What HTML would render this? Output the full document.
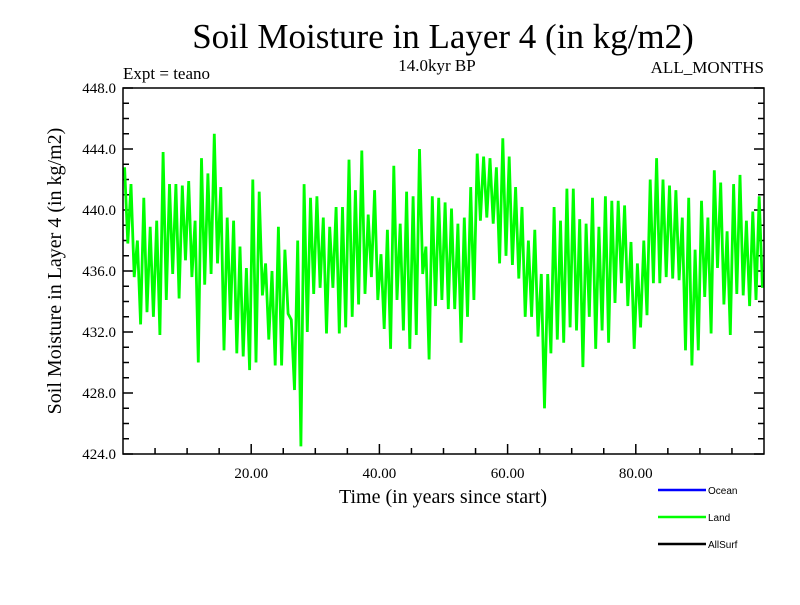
<!DOCTYPE html>
<html><head><meta charset="utf-8"><style>
body{margin:0;background:#fff}
svg text{font-family:"Liberation Serif",serif}
</style></head><body>
<svg id="c" width="800" height="600" xmlns="http://www.w3.org/2000/svg">
<text x="443" y="48" font-size="35" text-anchor="middle">Soil Moisture in Layer 4 (in kg/m2)</text>
<text x="437" y="71" font-size="17" text-anchor="middle">14.0kyr BP</text>
<text x="123" y="79" font-size="17">Expt = teano</text>
<text x="764" y="73" font-size="17" text-anchor="end">ALL_MONTHS</text>
<text x="443" y="503" font-size="20" text-anchor="middle">Time (in years since start)</text>
<text transform="translate(61,271) rotate(-90)" font-size="20" text-anchor="middle">Soil Moisture in Layer 4 (in kg/m2)</text>
<g id="ticks"></g>
<g id="series"></g>
<rect x="123" y="88" width="641" height="366" fill="none" stroke="#000" stroke-width="1.5"/>
<g>
<line x1="658" y1="490" x2="706" y2="490" stroke="#0000ff" stroke-width="2.5"/>
<text x="708" y="494" font-size="10" style="font-family:'Liberation Sans',sans-serif">Ocean</text>
<line x1="658" y1="517" x2="706" y2="517" stroke="#00ff00" stroke-width="2.5"/>
<text x="708" y="521" font-size="10" style="font-family:'Liberation Sans',sans-serif">Land</text>
<line x1="658" y1="544" x2="706" y2="544" stroke="#000" stroke-width="2.5"/>
<text x="708" y="548" font-size="10" style="font-family:'Liberation Sans',sans-serif">AllSurf</text>
</g>
</svg>
<script>
const yearHigh=[442.8,441.7,438.0,440.8,438.9,439.3,443.8,441.7,441.7,441.6,441.9,439.3,443.4,442.4,445.0,441.5,439.5,439.3,437.6,436.2,442.0,441.2,436.5,436.0,438.9,437.4,432.8,438.0,441.7,440.8,440.9,439.5,438.9,440.2,440.2,443.3,441.3,443.9,439.7,441.3,437.1,438.7,442.9,439.1,441.2,440.9,444.0,437.6,440.9,440.8,440.5,440.1,439.1,439.5,441.5,443.7,443.5,443.4,442.8,444.7,443.5,441.5,440.2,438.0,438.7,435.8,435.8,440.2,439.3,441.4,441.4,439.4,439.1,440.8,438.9,440.9,440.6,440.6,440.3,437.9,436.5,438.0,442.0,443.4,442.0,441.6,441.3,439.5,440.8,437.4,440.6,439.5,442.6,441.8,438.6,441.7,442.3,439.3,439.9,440.9];
const yearLow=[437.8,435.6,432.5,433.3,433.0,431.8,434.1,435.8,434.2,436.7,435.6,430.0,435.1,435.8,436.5,430.8,432.8,430.6,430.4,429.5,430.0,434.4,431.5,429.8,429.8,433.2,428.2,424.5,432.0,434.5,434.9,431.9,434.9,431.9,432.3,433.0,433.8,434.5,435.6,434.1,432.2,430.9,434.1,432.1,430.9,431.8,435.8,430.2,433.7,434.1,433.5,433.5,431.3,433.0,434.1,439.3,439.5,439.1,436.5,437.0,436.4,435.5,433.0,433.0,431.7,427.0,430.6,431.5,431.3,432.3,432.1,429.7,433.0,430.9,432.1,431.3,433.9,435.2,433.7,430.9,432.3,433.1,435.2,435.2,435.6,435.5,435.4,430.8,429.8,430.8,434.3,431.9,436.2,433.8,431.8,434.5,434.4,433.7,434.1,434.9];
const yTickLabels=["424.0","428.0","432.0","436.0","440.0","444.0","448.0"];
const xTickLabels=["20.00","40.00","60.00","80.00"];
const X0=123,X1=764,Y0=454,Y1=88,XMIN=0,XMAX=100,YMIN=424,YMAX=448;
const sx=v=>X0+(v-XMIN)/(XMAX-XMIN)*(X1-X0);
const sy=v=>Y0-(v-YMIN)/(YMAX-YMIN)*(Y0-Y1);
const NS="http://www.w3.org/2000/svg";
const tg=document.getElementById('ticks');
function ln(x1,y1,x2,y2,name){const l=document.createElementNS(NS,'line');
l.setAttribute('x1',x1);l.setAttribute('y1',y1);l.setAttribute('x2',x2);l.setAttribute('y2',y2);
l.setAttribute('stroke','#000');l.setAttribute('stroke-width','1.5');


tg.appendChild(l);}
function tx(x,y,s,anchor,name){const t=document.createElementNS(NS,'text');
t.setAttribute('x',x);t.setAttribute('y',y);t.setAttribute('font-size','15');t.setAttribute('text-anchor',anchor);t.textContent=s;


tg.appendChild(t);}
for(let v=YMIN;v<=YMAX;v+=1){const y=sy(v);const major=(v-YMIN)%4===0;const L=major?10:6;
ln(X0,y,X0+L,y,'y-tick');ln(X1-L,y,X1,y,'y-tick-right');}
yTickLabels.forEach(s=>tx(116,sy(parseFloat(s))+5,s,'end','y-tick-label'));
for(let v=5;v<XMAX;v+=5){const x=sx(v);const major=v%20===0;const L=major?10:6;
ln(x,Y0,x,Y0-L,'x-tick');}
xTickLabels.forEach(s=>tx(sx(parseFloat(s)),478,s,'middle','x-tick-label'));
const pts=[];
yearHigh.forEach((h,i)=>{pts.push([i+0.25,h]);pts.push([i+0.75,yearLow[i]]);});
const p=document.createElementNS(NS,'polyline');
p.setAttribute('points',pts.map(q=>sx(q[0]).toFixed(1)+','+sy(q[1]).toFixed(1)).join(' '));
p.setAttribute('fill','none');p.setAttribute('stroke','#00ff00');p.setAttribute('stroke-width','2.8');


document.getElementById('series').appendChild(p);
</script>
</body></html>
